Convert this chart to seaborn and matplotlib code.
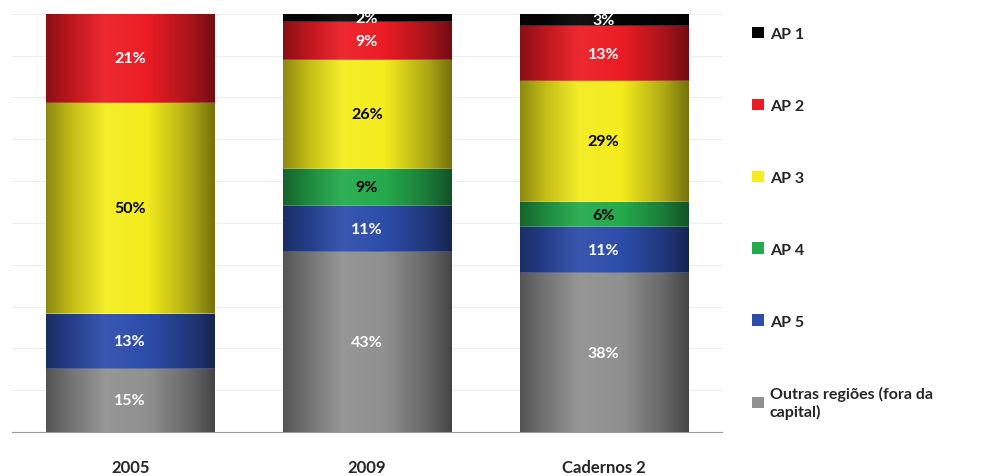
import numpy as np
import pandas as pd
import seaborn as sns
import matplotlib.pyplot as plt
from matplotlib.colors import LinearSegmentedColormap, to_rgb
from matplotlib.patches import Patch

sns.set_style('white')
plt.rcParams['font.family'] = ['Lato', 'DejaVu Sans']

# Data (percent per region, bottom to top)
anos = ['2005', '2009', 'Cadernos 2']
regioes = ['Outras regiões (fora da\ncapital)', 'AP 5', 'AP 4', 'AP 3', 'AP 2', 'AP 1']
outras = [15, 43, 38]
ap5 = [13, 11, 11]
ap4 = [0, 9, 6]
ap3 = [50, 26, 29]
ap2 = [21, 9, 13]
ap1 = [0, 2, 3]

cores = ['#909090', '#2d4dab', '#25ab4d', '#f4ec1c', '#ec1c24', '#050505']
cor_texto = ['white', 'white', 'black', 'black', 'white', 'white']

valores = np.array([outras, ap5, ap4, ap3, ap2, ap1], dtype=float)
# 100% stacked: normalise each column
share = valores / valores.sum(axis=0) * 100
cum = share.cumsum(axis=0)
bottoms = cum - share


def shade(c, f):
    r = np.array(to_rgb(c))
    return tuple(r * f)


def lighten(c, f):
    r = np.array(to_rgb(c))
    return tuple(r + (1 - r) * f)


fig, ax = plt.subplots(figsize=(9.81, 4.77), dpi=100)
fig.subplots_adjust(left=0.012, right=0.736, bottom=0.092, top=0.969)

# draw from the top layer down so each lower layer covers the previous
n = len(regioes)
grad = np.linspace(0, 1, 256).reshape(1, -1)
for k, i in enumerate(range(n - 1, -1, -1)):
    antes = len(ax.patches)
    df = pd.DataFrame({'ano': anos, 'total': cum[i]})
    sns.barplot(data=df, x='ano', y='total', color=cores[i], saturation=1,
                width=0.71, ax=ax, zorder=2 + 2 * k)
    cmap = LinearSegmentedColormap.from_list(
        'g%d' % i,
        [(0.0, shade(cores[i], 0.58)), (0.15, shade(cores[i], 0.8)),
         (0.35, lighten(cores[i], 0.06)), (0.6, cores[i]),
         (0.85, shade(cores[i], 0.72)), (1.0, shade(cores[i], 0.48))])
    for p in ax.patches[antes:]:
        bb = p.get_bbox()
        im = ax.imshow(grad, cmap=cmap, aspect='auto',
                       extent=[bb.x0, bb.x1, bb.y0, bb.y1],
                       zorder=2 + 2 * k + 1, interpolation='bilinear')
        im.set_clip_path(p)

# value labels
for i in range(n):
    for j in range(len(anos)):
        if valores[i, j] == 0:
            continue
        ax.text(j, bottoms[i, j] + share[i, j] / 2, '%d%%' % valores[i, j],
                ha='center', va='center', fontsize=11.5, fontweight='bold',
                color=cor_texto[i], zorder=50, clip_on=True)

ax.set_xlim(-0.5, 2.5)
ax.set_ylim(0, 100)
ax.set_yticks(np.arange(0, 101, 10))
ax.set_yticklabels([])
ax.tick_params(axis='y', length=0)
ax.yaxis.grid(True, color='#ededed', linewidth=0.8, zorder=0)
ax.set_axisbelow(True)
ax.set_xlabel('')
ax.set_ylabel('')
ax.set_xticks(range(len(anos)))
ax.set_xticklabels(anos, fontsize=12, fontweight='bold')
ax.set_xticks([-0.5, 0.5, 1.5, 2.5], minor=True)
ax.tick_params(axis='x', which='major', length=0, pad=19)
ax.tick_params(axis='x', which='minor', length=4, color='#9a9a9a')
sns.despine(ax=ax, left=True)
ax.spines['bottom'].set_color('#9a9a9a')

handles = [Patch(facecolor=cores[i], edgecolor='none', label=regioes[i])
           for i in range(n - 1, -1, -1)]
leg = fig.legend(handles=handles, loc='upper left', bbox_to_anchor=(0.752, 0.972),
                 frameon=False, prop={'weight': 'bold', 'size': 11.5},
                 labelspacing=3.6, handlelength=0.75, handleheight=0.75,
                 handletextpad=0.35)

plt.savefig('out.png', dpi=100)
